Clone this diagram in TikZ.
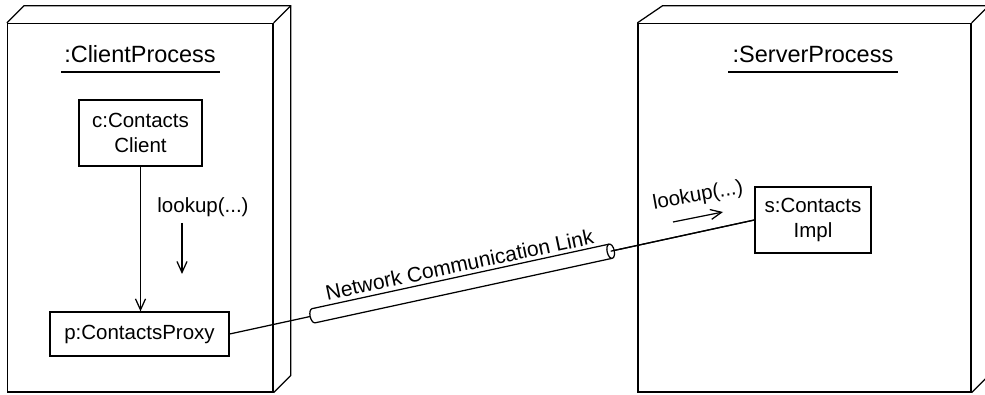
\documentclass[tikz,border=0pt]{standalone}
\usepackage{fontspec}
\setmainfont{Liberation Sans}
\usetikzlibrary{arrows.meta,calc}
\begin{document}
\begin{tikzpicture}[x=1pt,y=1pt,
  every node/.style={inner sep=0pt},
  lw/.style={line width=1.25pt},
  frontface/.style={draw,lw,rectangle},
  objbox/.style={draw,lw,rectangle,align=center,font=\fontsize{20.5}{24.5}\selectfont},
  ttl/.style={font=\fontsize{23.5}{28}\selectfont},
  lbl/.style={font=\fontsize{20.5}{24}\selectfont},
  msg/.style={lw,-{Straight Barb[length=11pt,width=10pt]}},
]
\useasboundingbox (0,0) rectangle (985,395);
% client process node
\node[frontface,minimum width=265.5pt,minimum height=368.5pt] (cp) at (140.25,187.25) {};
\draw[lw] (cp.north west) -- ++(17,17) -- ($(cp.north east)+(17,17)$) -- ($(cp.south east)+(17,17)$) -- (cp.south east);
\draw[lw] (cp.north east) -- ++(17,17);
% server process node
\node[frontface,minimum width=333pt,minimum height=368.5pt] (sp) at (804.5,187.25) {};
\draw[lw] (sp.north west) -- ++(25,17) -- ($(sp.north east)+(17,17)$) -- ($(sp.south east)+(17,17)$) -- (sp.south east);
\draw[lw] (sp.north east) -- ++(17,17);
% titles
\node[ttl,anchor=base] (ct) at (140,332) {:ClientProcess};
\draw[lw] ([xshift=-3pt,yshift=-9pt]ct.base west) -- ([xshift=4pt,yshift=-9pt]ct.base east);
\node[ttl,anchor=base] (st) at (813,332) {:ServerProcess};
\draw[lw] ([xshift=-4pt,yshift=-9pt]st.base west) -- ([xshift=4pt,yshift=-9pt]st.base east);
% objects
\node[objbox,minimum width=123pt,minimum height=66pt] (c) at (140.5,262) {c:Contacts\\Client};
\node[objbox,minimum width=179pt,minimum height=44pt] (p) at (139.5,61) {p:ContactsProxy};
\node[objbox,minimum width=116pt,minimum height=66pt] (s) at (813,175) {s:Contacts\\Impl};
\draw[msg] (c.south) -- (c.south |- p.north);
% messages
\node[lbl] (l1) at (203,188) {lookup(...)};
\coordinate (a1s) at (182,172);
\coordinate (a1e) at (182,121);
\draw[msg] (a1s) -- (a1e);
\node[lbl,rotate=10] (l2) at (698,199) {lookup(...)};
\coordinate (a2s) at (673,173);
\coordinate (a2e) at (723,183);
\draw[msg] (a2s) -- (a2e);
% network link
\draw[lw] (p.east) -- (s.west);
\path let \p1=($(s.west)-(p.east)$) in \pgfextra{\pgfmathsetmacro{\tmpang}{atan2(\y1,\x1)}\xdef\linkang{\tmpang}};
\begin{scope}[shift={(p.east)},rotate=\linkang]
  \coordinate (cylL) at (86,0);
  \coordinate (cylR) at (390,0);
  \fill[white] (86,7.25) -- (390,7.25) -- (390,-7.25) -- (86,-7.25)
    arc[start angle=270,end angle=90,x radius=3.6,y radius=7.25] -- cycle;
  \draw[lw] (390,7.25) -- (86,7.25) arc[start angle=90,end angle=270,x radius=3.6,y radius=7.25] -- (390,-7.25);
  \draw[lw,fill=white] (cylR) ellipse[x radius=3.6,y radius=7.25];
  \draw[lw] (cylR) -- (s.west);
\end{scope}
\node[font=\fontsize{21}{24}\selectfont,rotate=12] (nl) at (459.5,130.5) {Network Communication Link};
\end{tikzpicture}
\end{document}
